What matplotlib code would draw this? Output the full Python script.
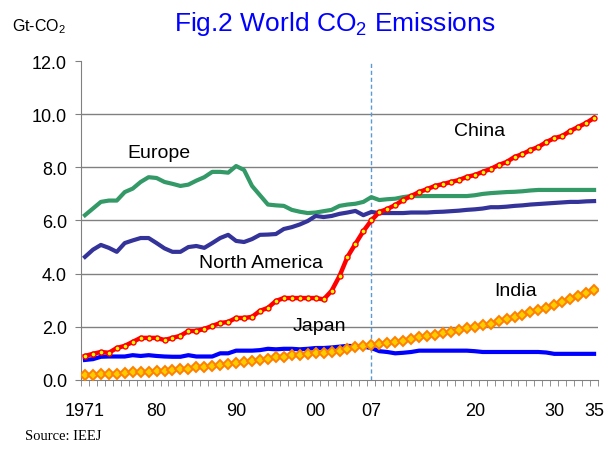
import numpy as np
import matplotlib
matplotlib.use("Agg")
import matplotlib.pyplot as plt

plt.rcParams['font.family'] = ['Liberation Sans', 'DejaVu Sans']
plt.rcParams['mathtext.fontset'] = 'custom'
plt.rcParams['mathtext.rm'] = 'Liberation Sans'
plt.rcParams['mathtext.default'] = 'regular'

years = np.arange(1971, 2036)

europe = [6.2, 6.45, 6.7, 6.75, 6.75, 7.07, 7.2, 7.45, 7.63, 7.6,
          7.45, 7.38, 7.3, 7.35, 7.5, 7.63, 7.83, 7.83, 7.8, 8.05,
          7.9, 7.3, 6.95, 6.6, 6.57, 6.55, 6.4, 6.33, 6.28, 6.3,
          6.35, 6.4, 6.55, 6.6, 6.63, 6.7, 6.88, 6.77, 6.8, 6.82,
          6.88, 6.92, 6.92, 6.92, 6.92, 6.92, 6.92, 6.92, 6.92, 6.95,
          7.0, 7.03, 7.05, 7.07, 7.08, 7.1, 7.13, 7.15, 7.15, 7.15,
          7.15, 7.15, 7.15, 7.15, 7.15]

north_america = [4.63, 4.9, 5.08, 4.97, 4.82, 5.15, 5.25, 5.34, 5.34, 5.15,
                 4.95, 4.82, 4.82, 5.0, 5.04, 4.97, 5.15, 5.34, 5.46, 5.23,
                 5.19, 5.3, 5.46, 5.47, 5.49, 5.68, 5.75, 5.85, 5.98, 6.17,
                 6.13, 6.17, 6.25, 6.3, 6.36, 6.2, 6.32, 6.28, 6.28, 6.28,
                 6.28, 6.3, 6.3, 6.3, 6.32, 6.33, 6.35, 6.37, 6.4, 6.42,
                 6.45, 6.5, 6.5, 6.52, 6.55, 6.57, 6.6, 6.62, 6.64, 6.66,
                 6.68, 6.7, 6.7, 6.72, 6.73]

china = [0.9, 0.98, 1.05, 1.02, 1.2, 1.28, 1.43, 1.58, 1.58, 1.58,
         1.5, 1.58, 1.66, 1.84, 1.84, 1.92, 2.03, 2.14, 2.18, 2.33,
         2.33, 2.37, 2.6, 2.71, 2.97, 3.08, 3.08, 3.08, 3.08, 3.08,
         3.03, 3.35, 3.91, 4.63, 5.12, 5.6, 6.0, 6.32, 6.43, 6.58,
         6.77, 6.92, 7.07, 7.18, 7.3, 7.37, 7.45, 7.52, 7.64, 7.71,
         7.83, 7.94, 8.09, 8.2, 8.39, 8.5, 8.65, 8.77, 8.95, 9.1,
         9.18, 9.37, 9.52, 9.67, 9.86]

japan = [0.75, 0.78, 0.87, 0.88, 0.88, 0.88, 0.93, 0.9, 0.93, 0.9,
         0.88, 0.87, 0.87, 0.93, 0.88, 0.88, 0.88, 1.0, 1.0, 1.1,
         1.1, 1.1, 1.12, 1.17, 1.15, 1.17, 1.17, 1.15, 1.17, 1.2,
         1.2, 1.22, 1.25, 1.28, 1.27, 1.25, 1.2, 1.08, 1.05, 1.0,
         1.02, 1.05, 1.1, 1.1, 1.1, 1.1, 1.1, 1.1, 1.1, 1.08,
         1.05, 1.05, 1.05, 1.05, 1.05, 1.05, 1.05, 1.05, 1.03, 0.98,
         0.98, 0.98, 0.98, 0.98, 0.98]

india = [0.2, 0.2, 0.21, 0.22, 0.23, 0.26, 0.28, 0.3, 0.31, 0.32,
         0.35, 0.37, 0.4, 0.42, 0.47, 0.5, 0.54, 0.57, 0.6, 0.65,
         0.68, 0.72, 0.74, 0.8, 0.85, 0.88, 0.92, 0.95, 0.98, 1.0,
         1.03, 1.06, 1.1, 1.16, 1.23, 1.27, 1.33, 1.34, 1.37, 1.42,
         1.48, 1.54, 1.6, 1.64, 1.69, 1.76, 1.82, 1.89, 1.94, 2.0,
         2.05, 2.12, 2.2, 2.28, 2.35, 2.44, 2.54, 2.63, 2.71, 2.82,
         2.92, 3.03, 3.14, 3.27, 3.39]

label_years = [1971, 1980, 1990, 2000, 2007, 2020, 2030, 2035]
label_text = ['1971', '80', '90', '00', '07', '20', '30', '35']

fig = plt.figure(figsize=(6.09, 4.60), dpi=100)
ax = fig.add_axes([0.133, 0.172, 0.849, 0.693])

ax.plot(years, europe, color='#339966', lw=3, zorder=3)
ax.plot(years, north_america, color='#333399', lw=3, zorder=3)
ax.plot(years, japan, color='#0000FF', lw=3, zorder=3)
ax.plot(years, india, color='#FF8000', lw=2, marker='D', ms=5,
        mfc='#FFCC00', mec='#FF8000', mew=1.4, zorder=4)
ax.plot(years, china, color='#FF0000', lw=3.2, marker='o', ms=3.6,
        mfc='#FFFF00', mec='#FF0000', mew=1.0, zorder=5)

ax.axvline(2007, color='#5B9BD5', lw=1, ls=(0, (3, 2)), zorder=2)

ax.set_xlim(1970.5, 2035.5)
ax.set_ylim(0, 12)
ax.set_yticks(np.arange(0, 12.1, 2))
ax.set_yticklabels(['%.1f' % v for v in np.arange(0, 12.1, 2)], fontsize=13)
ax.set_xticks(label_years)
ax.set_xticklabels(label_text, fontsize=13)
ax.set_xticks(np.arange(1970.5, 2036, 1), minor=True)
ax.tick_params(axis='x', which='major', length=0, pad=16)
ax.tick_params(axis='x', which='minor', length=4, color='#808080', direction='out')
ax.tick_params(axis='y', length=4, color='#808080', pad=6)

for v in np.arange(2, 11, 2):
    ax.axhline(v, color='#808080', lw=1, zorder=1)

for s in ['top', 'right']:
    ax.spines[s].set_visible(False)
ax.spines['left'].set_color('#808080')
ax.spines['bottom'].set_color('#808080')

ax.text(1976.3, 8.55, 'Europe', fontsize=14, va='center')
ax.text(1985.3, 4.4, 'North America', fontsize=14, va='center')
ax.text(2017.4, 9.4, 'China', fontsize=14, va='center')
ax.text(2022.5, 3.35, 'India', fontsize=14, va='center')
ax.text(1997.1, 2.05, 'Japan', fontsize=14, va='center')

fig.text(0.55, 0.948, r'Fig.2 World CO$_2$ Emissions', color='#0000FF',
         fontsize=19, ha='center', va='center')
fig.text(0.02, 0.941, r'Gt-CO$_2$', fontsize=11.5, ha='left', va='center')
fig.text(0.041, 0.052, 'Source: IEEJ', fontsize=10.5, ha='left', va='center',
         family='Liberation Serif')

fig.savefig('out.png', dpi=100)
